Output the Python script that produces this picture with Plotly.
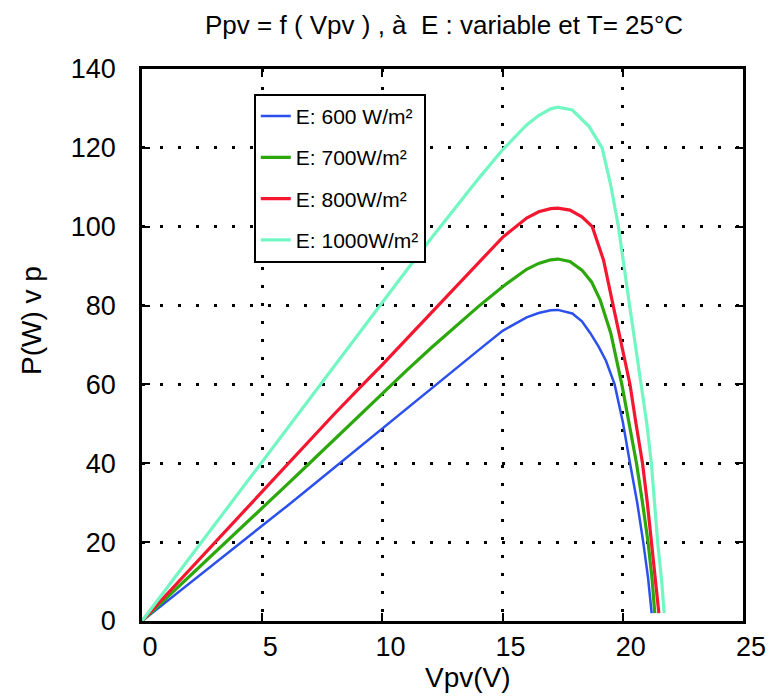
import plotly.graph_objects as go

# ---- data ----
V_600 = [0, 1, 2, 3, 4, 5, 6, 7, 8, 9, 10, 11, 12, 13, 14, 15, 16, 16.5, 17, 17.3,
         17.9, 18.3, 18.65, 19.0, 19.3, 19.66, 20.0, 20.3, 20.6, 20.85, 21.05, 21.2]
P_600 = [0, 4.8, 9.6, 14.4, 19.3, 24.1, 29.0, 33.9, 38.9, 43.9, 48.9, 53.9, 58.8, 63.7,
         68.7, 73.6, 77.0, 78.1, 78.8, 78.9, 78.0, 76.0, 73.0, 69.5, 66.0, 60.0, 50.5,
         40.0, 30.0, 20.0, 11.0, 2.0]

V_700 = [0, 1, 2, 3, 4, 5, 6, 7, 8, 9, 10, 11, 12, 13, 14, 15, 16, 16.5, 17, 17.3,
         17.8, 18.3, 18.7, 19.06, 19.5, 19.96, 20.27, 20.57, 20.82, 21.05, 21.22, 21.33]
P_700 = [0, 5.7, 11.5, 17.2, 23.0, 28.6, 34.4, 40.2, 46.0, 51.8, 57.8, 63.5, 69.1, 74.5,
         79.8, 84.8, 89.2, 90.7, 91.6, 91.8, 91.2, 89.0, 86.0, 81.4, 73.0, 60.0, 50.0,
         40.0, 30.0, 20.0, 10.5, 2.0]

V_800 = [0, 1, 2, 3, 4, 5, 6, 7, 8, 9, 10, 11, 12, 13, 14, 15, 16, 16.5, 17, 17.3,
         17.8, 18.3, 18.73, 19.2, 19.6, 20.0, 20.3, 20.55, 20.82, 21.02, 21.2, 21.38, 21.5]
P_800 = [0, 6.6, 13.2, 19.8, 26.4, 33.0, 39.5, 46.0, 52.5, 58.8, 65.0, 71.5, 78.0, 84.5,
         91.0, 97.3, 102.2, 103.8, 104.6, 104.7, 104.2, 102.5, 100.0, 91.5, 80.0, 69.0,
         60.0, 50.0, 40.0, 30.0, 20.0, 10.0, 2.0]

V_1000 = [0, 1, 2, 3, 4, 5, 6, 7, 8, 9, 10, 11, 12, 13, 14, 15, 16, 16.5, 17, 17.3,
          17.9, 18.6, 19.14, 19.5, 19.82, 20.25, 20.5, 20.78, 21.0, 21.19, 21.45, 21.62, 21.72]
P_1000 = [0, 8.1, 16.2, 24.3, 32.4, 40.4, 48.6, 56.7, 64.8, 72.9, 81.0, 88.9, 96.8, 104.6,
          112.2, 119.5, 125.8, 128.2, 129.9, 130.3, 129.6, 125.4, 120.0, 110.5, 100.0,
          81.4, 71.0, 60.0, 50.0, 40.0, 20.0, 10.0, 2.0]

series_names = ["E: 600 W/m²", "E: 700W/m²", "E: 800W/m²", "E: 1000W/m²"]
series_V = [V_600, V_700, V_800, V_1000]
series_P = [P_600, P_700, P_800, P_1000]
series_colors = ["#2b50ec", "#2ca80c", "#f5172f", "#72f7c3"]
series_widths = [2.5, 3.2, 3.2, 3.2]

x_ticks = [0, 5, 10, 15, 20, 25]
y_ticks = [0, 20, 40, 60, 80, 100, 120, 140]

title_text = "Ppv = f ( Vpv ) , à  E : variable et T= 25°C"
x_title = "Vpv(V)"
y_title = "P(W) v p"

FONT = "Liberation Sans, Arial, Helvetica, sans-serif"

fig = go.Figure()
for i, (n, vx, py, c, w) in enumerate(zip(series_names, series_V, series_P,
                                          series_colors, series_widths)):
    fig.add_trace(go.Scatter(x=vx, y=py, mode="lines", name=n,
                             legendgroup=f"g{i}",
                             line=dict(color=c, width=w)))

axis_common = dict(
    showline=True, linecolor="black", linewidth=2.5, mirror="ticks",
    ticks="inside", ticklen=8, tickwidth=2, tickcolor="black",
    showgrid=True, gridcolor="black", gridwidth=2.5, griddash="3px,15px",
    zeroline=False, tickfont=dict(family=FONT, size=27, color="black"),
)

# the page body has an 8px margin, so the figure is 8px smaller than the window
fig.update_layout(
    width=770, height=688,
    margin=dict(l=134, r=24, t=61, b=75),
    paper_bgcolor="white", plot_bgcolor="white",
    xaxis=dict(range=[0, 25], tickvals=x_ticks, ticklabelstandoff=0,
               ticklabelshift=8, **axis_common),
    yaxis=dict(range=[0, 140], tickvals=y_ticks, ticklabelstandoff=18,
               **axis_common),
    legend=dict(x=0.186, y=0.955, xanchor="left", yanchor="top",
                bgcolor="white", bordercolor="black", borderwidth=2,
                traceorder="grouped", tracegroupgap=11,
                font=dict(family=FONT, size=21, color="black")),
    showlegend=True,
    annotations=[
        dict(text=title_text, xref="paper", yref="paper", x=0.503, y=1.079,
             xanchor="center", yanchor="middle", showarrow=False,
             font=dict(family=FONT, size=26, color="black")),
        dict(text=x_title, xref="paper", yref="paper", x=0.5425, y=-0.103,
             xanchor="center", yanchor="middle", showarrow=False,
             font=dict(family=FONT, size=28, color="black")),
        dict(text=y_title, xref="paper", yref="paper", x=-0.185, y=0.545,
             xanchor="center", yanchor="middle", showarrow=False, textangle=-90,
             font=dict(family=FONT, size=28, color="black")),
    ],
)

fig.write_html("out.html")
